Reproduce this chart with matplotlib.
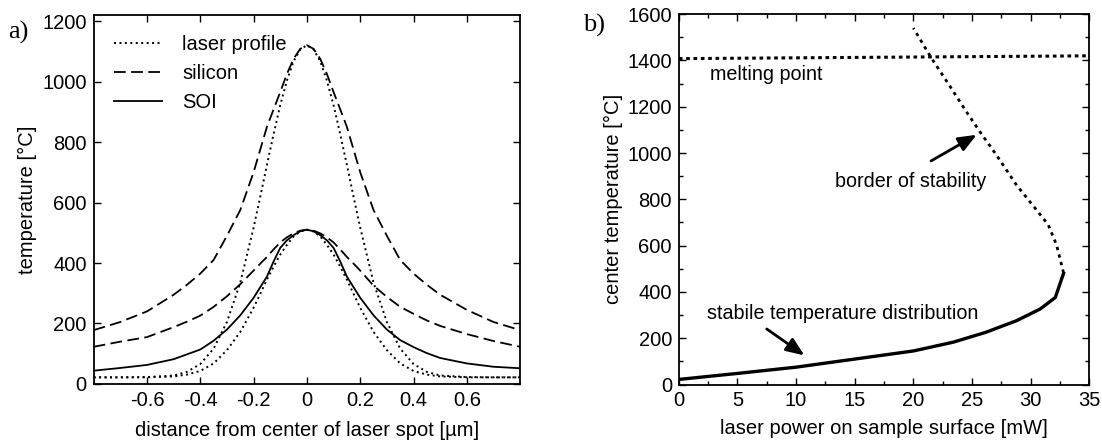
import matplotlib
matplotlib.use("Agg")
from matplotlib import pyplot as plt
from matplotlib.ticker import MultipleLocator
import numpy as np

# ---- panel a) temperature profiles
x_um = [-0.8, -0.7, -0.6, -0.5, -0.45, -0.4, -0.35, -0.3, -0.25, -0.2, -0.175, -0.15,
        -0.125, -0.1, -0.075, -0.05, -0.025, 0.0, 0.025, 0.05, 0.075, 0.1, 0.125,
        0.15, 0.175, 0.2, 0.25, 0.3, 0.35, 0.4, 0.45, 0.5, 0.6, 0.7, 0.8]
laser_hi = [22, 22, 23, 28, 40, 66, 117, 205, 335, 517, 619, 724,
            826, 922, 1003, 1067, 1106, 1120, 1106, 1067, 1003, 922, 826,
            724, 619, 517, 335, 205, 117, 66, 40, 28, 23, 22, 22]
laser_lo = [22, 22, 22, 25, 31, 43, 68, 112, 172, 252, 298, 345,
            388, 428, 460, 488, 504, 510, 504, 488, 460, 428, 388,
            345, 298, 252, 172, 112, 68, 43, 31, 25, 22, 22, 22]
si_hi = [178, 205, 240, 295, 328, 365, 410, 490, 575, 700, 775, 850,
         908, 965, 1025, 1075, 1108, 1120, 1108, 1075, 1025, 965, 908,
         850, 775, 700, 575, 490, 410, 365, 328, 295, 245, 205, 178]
si_lo = [123, 140, 155, 188, 206, 226, 255, 290, 330, 375, 398, 420,
         445, 468, 485, 498, 507, 510, 507, 498, 485, 468, 445,
         420, 398, 375, 325, 288, 255, 232, 210, 192, 165, 142, 123]
soi = [44, 53, 63, 82, 98, 114, 143, 180, 227, 285, 320, 355,
       405, 450, 475, 492, 505, 510, 505, 492, 475, 450, 405,
       355, 320, 285, 227, 180, 145, 122, 102, 86, 68, 57, 52]

# ---- panel b) center temperature vs laser power
p_stable = [0, 5, 10, 15, 20, 23.4, 26.2, 28.8, 30.8, 32.1, 32.8]
t_stable = [22, 48, 75, 110, 145, 183, 226, 276, 326, 376, 480]
p_border = [32.8, 32.2, 31.5, 30.5, 28.8, 27.1, 25.7, 24.5, 23.1, 21.5, 20.0]
t_border = [483, 604, 690, 754, 861, 990, 1090, 1180, 1290, 1413, 1540]
p_melt = [0, 35]
t_melt = [1408, 1420]

plt.rcParams['font.family'] = ['Liberation Sans', 'DejaVu Sans']
fs = 14.5

fig = plt.figure(figsize=(11.02, 4.43), dpi=100)
ax1 = fig.add_axes([0.085, 0.1332, 0.387, 0.833])
ax2 = fig.add_axes([0.616, 0.132, 0.3725, 0.836])

for ax in (ax1, ax2):
    ax.tick_params(direction='in', top=True, right=True, labelsize=fs,
                   length=5, width=1, pad=5)
    ax.tick_params(which='minor', direction='in', top=True, right=True,
                   length=3, width=1)
    for s in ax.spines.values():
        s.set_linewidth(1.3)

# a)
dash = (0, (6.5, 3))
ax1.plot(x_um, laser_hi, color='k', ls=(0, (1, 1.8)), lw=1.4, label='laser profile')
ax1.plot(x_um, si_hi, color='k', ls=dash, lw=1.3, label='silicon')
ax1.plot(x_um, soi, color='k', ls='-', lw=1.3, label='SOI')
ax1.plot(x_um, laser_lo, color='k', ls=(0, (1, 1.8)), lw=1.4)
ax1.plot(x_um, si_lo, color='k', ls=dash, lw=1.3)
ax1.set_xlim(-0.8, 0.8)
ax1.set_ylim(0, 1220)
ax1.set_xticks([-0.6, -0.4, -0.2, 0, 0.2, 0.4, 0.6])
ax1.set_xticklabels(['-0.6', '-0.4', '-0.2', '0', '0.2', '0.4', '0.6'])
ax1.set_yticks(range(0, 1201, 200))
ax1.set_xlabel('distance from center of laser spot [µm]', fontsize=fs, labelpad=8)
ax1.set_ylabel('temperature [°C]', fontsize=fs, labelpad=4)
ax1.legend(loc='upper left', frameon=False, fontsize=fs, handlelength=2.4,
           handletextpad=1.0, labelspacing=0.5, borderaxespad=0.6,
           borderpad=0.4)
fig.text(0.007, 0.927, 'a)', fontsize=19, family='Liberation Serif', va='center')

# b)
ax2.plot(p_stable, t_stable, color='k', lw=2.4)
ax2.plot(p_border, t_border, color='k', ls=(0, (1.2, 1.6)), lw=2.0)
ax2.plot(p_melt, t_melt, color='k', ls=(0, (1.2, 1.2)), lw=2.2)
ax2.set_xlim(0, 35)
ax2.set_ylim(0, 1600)
ax2.xaxis.set_major_locator(MultipleLocator(5))
ax2.xaxis.set_minor_locator(MultipleLocator(2.5))
ax2.yaxis.set_major_locator(MultipleLocator(200))
ax2.yaxis.set_minor_locator(MultipleLocator(100))
ax2.set_xlabel('laser power on sample surface [mW]', fontsize=fs, labelpad=6)
ax2.set_ylabel('center temperature [°C]', fontsize=fs, labelpad=3)

ax2.text(7.45, 1339, 'melting point', fontsize=14.2, ha='center', va='center')
ax2.text(19.8, 875, 'border of stability', fontsize=14.2, ha='center', va='center')
ax2.text(14.0, 305, 'stabile temperature distribution', fontsize=14.2,
         ha='center', va='center')
arrow = dict(arrowstyle='-|>,head_length=1.1,head_width=0.45', color='k', lw=2)
ax2.annotate('', xy=(25.6, 1085), xytext=(21.3, 960), arrowprops=arrow)
ax2.annotate('', xy=(10.9, 119), xytext=(7.3, 247), arrowprops=arrow)
fig.text(0.529, 0.943, 'b)', fontsize=19, family='Liberation Serif', va='center')

fig.savefig('out.png', dpi=100)
